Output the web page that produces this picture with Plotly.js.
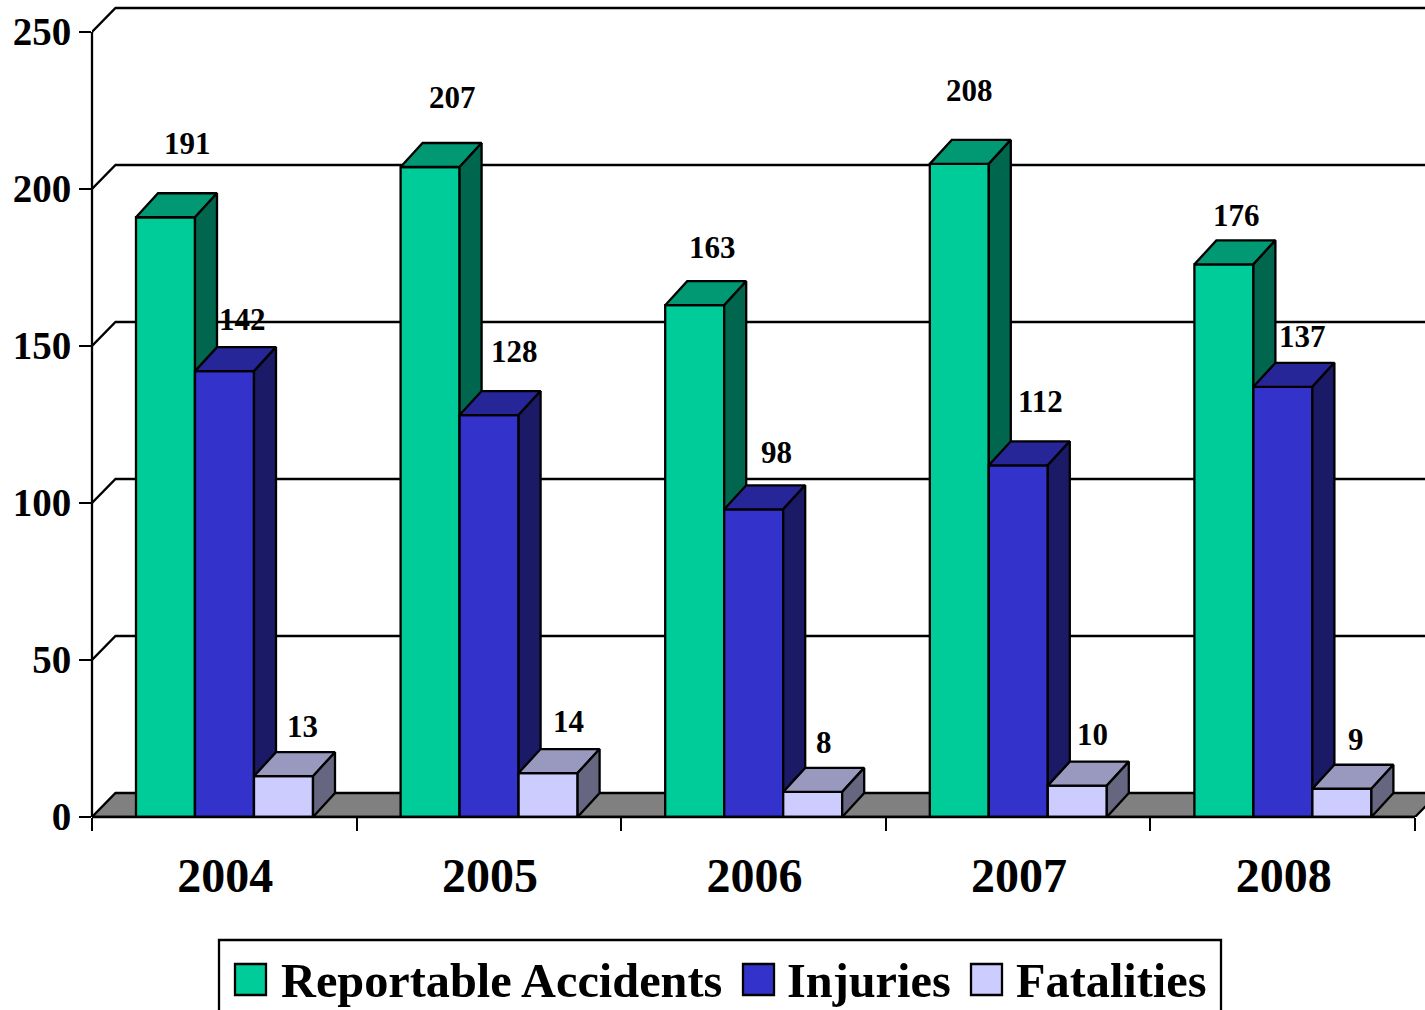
<!DOCTYPE html>
<html>
<head>
<meta charset="utf-8">
<style>html,body{margin:0;padding:0;background:#fff;overflow:hidden}</style>
<script src="https://cdn.plot.ly/plotly-3.0.1.min.js"></script>
</head>
<body>
<div id="chart" style="width:1425px;height:1010px"></div>
<script>
// ---- data ----
const years = ['2004', '2005', '2006', '2007', '2008'];
const reportableAccidents = [191, 207, 163, 208, 176];
const injuries = [142, 128, 98, 112, 137];
const fatalities = [13, 14, 8, 10, 9];
const yTicks = [0, 50, 100, 150, 200, 250];

// ---- hand-placed data label offsets from bar top centre (pixels) ----
const accidentLabelDx = [22, 22, 18, 10, 13];
const accidentLabelDy = [73.5, 69.5, 57.5, 73.5, 49];
const injuryLabelDx = [18, 25, 23, 22, 20];
const injuryLabelDy = [51.5, 64, 57, 63.5, 50];
const fatalityLabelDx = [19, 20, 11, 15.5, 14];
const fatalityLabelDy = [50, 52, 49, 51.6, 49.7];

// ---- geometry ----
const W = 1425, H = 1010, ML = 92, AXIS_Y = 817;
const catPx = 264.6, unitPx = 3.14;
const barPx = 59, gapPx = 44;
const barDX = 22 / catPx, barDY = 24 / unitPx;
const wallDX = 23.5 / catPx, wallDY = 24 / unitPx;
const xMax = (W - ML) / catPx, yMax = AXIS_Y / unitPx;
const w = barPx / catPx, start = gapPx / catPx;
const FONT = '"Liberation Serif", "Times New Roman", serif';
const LW = 2.3;

const series = [
  {name: 'Reportable Accidents', values: reportableAccidents, front: '#00CC99', top: '#009973', side: '#00664D', ldx: accidentLabelDx, ldy: accidentLabelDy},
  {name: 'Injuries', values: injuries, front: '#3333CC', top: '#262699', side: '#1A1A66', ldx: injuryLabelDx, ldy: injuryLabelDy},
  {name: 'Fatalities', values: fatalities, front: '#CCCCFF', top: '#9999BF', side: '#666680', ldx: fatalityLabelDx, ldy: fatalityLabelDy}
];

const traces = [];

// floor
traces.push({
  type: 'scatter', mode: 'lines', hoverinfo: 'skip', showlegend: false, cliponaxis: false, zorder: 0,
  x: [0, 5, 5 + wallDX, wallDX, 0], y: [0, 0, wallDY, wallDY, 0],
  fill: 'toself', fillcolor: '#808080', line: {color: '#000', width: LW}
});
// wall gridlines
const gx = [], gy = [];
yTicks.forEach(v => {
  if (v === 0) return;
  gx.push(0, wallDX, xMax + 1, null);
  gy.push(v, v + wallDY, v + wallDY, null);
});
traces.push({
  type: 'scatter', mode: 'lines', hoverinfo: 'skip', showlegend: false, cliponaxis: false, zorder: 0,
  x: gx, y: gy, line: {color: '#000', width: LW}
});

series.forEach((s, k) => {
  const left = i => i + start + k * w;
  traces.push({
    type: 'bar', name: s.name, x: years.map((_, i) => i + 0.5), y: s.values,
    width: w, offset: start - 0.5 + k * w, cliponaxis: false, zorder: 1 + 2 * k,
    marker: {color: s.front, line: {color: '#000', width: LW}}, hoverinfo: 'name+y'
  });
  const tx = [], ty = [], sx = [], sy = [];
  s.values.forEach((v, i) => {
    const a = left(i), b = a + w;
    tx.push(a, b, b + barDX, a + barDX, a, null);
    ty.push(v, v, v + barDY, v + barDY, v, null);
    sx.push(b, b + barDX, b + barDX, b, b, null);
    sy.push(0, barDY, v + barDY, v, 0, null);
  });
  [[tx, ty, s.top], [sx, sy, s.side]].forEach(p => traces.push({
    type: 'scatter', mode: 'lines', hoverinfo: 'skip', showlegend: false, cliponaxis: false, zorder: 2 + 2 * k,
    x: p[0], y: p[1], fill: 'toself', fillcolor: p[2], line: {color: '#000', width: LW}
  }));
});

// data labels
const annotations = [];
series.forEach((s, k) => s.values.forEach((v, i) => annotations.push({
  xref: 'x', yref: 'y', x: i + start + (k + 0.5) * w, y: v, text: String(v), showarrow: false,
  xshift: s.ldx[i], yshift: s.ldy[i], xanchor: 'center', yanchor: 'middle',
  font: {family: FONT, size: 31, color: '#000', weight: 700}
})));

// axis lines, not clipped at the plot edge
const shapes = [
  {type: 'line', layer: 'above', xref: 'paper', yref: 'y', x0: 0, x1: 0, y0: 0, y1: yTicks[yTicks.length - 1], line: {color: '#000', width: LW}},
  {type: 'line', layer: 'above', xref: 'x', yref: 'paper', x0: 0, x1: years.length, y0: 0, y1: 0, line: {color: '#000', width: LW}}
];

// legend (drawn to match the large swatches of the reference)
const px = x => (x - ML) / (W - ML);
const py = y => 1 - y / AXIS_Y;
shapes.push({
  type: 'rect', xref: 'paper', yref: 'paper', layer: 'above',
  x0: px(219), x1: px(1221), y0: py(940), y1: py(1020),
  fillcolor: '#fff', line: {color: '#000', width: LW}
});
const legendSwatchX = [235, 743, 971];
const legendTextX = [279.5, 786.5, 1014.5];
series.forEach((s, k) => {
  shapes.push({
    type: 'rect', xref: 'paper', yref: 'paper', layer: 'above',
    x0: px(legendSwatchX[k]), x1: px(legendSwatchX[k] + 31), y0: py(964), y1: py(995),
    fillcolor: s.front, line: {color: '#000', width: LW}
  });
  annotations.push({
    xref: 'paper', yref: 'paper', x: px(legendTextX[k]), y: py(980), text: s.name, showarrow: false,
    xanchor: 'left', yanchor: 'middle', font: {family: FONT, size: 48.3, color: '#000', weight: 700},
    borderpad: 0
  });
});

const layout = {
  width: W, height: H, autosize: false,
  margin: {l: ML, r: 0, t: 0, b: H - AXIS_Y, pad: 0},
  paper_bgcolor: '#fff', plot_bgcolor: '#fff',
  showlegend: false, barmode: 'overlay',
  xaxis: {
    type: 'linear', range: [0, xMax], showgrid: false, zeroline: false, showline: false,
    tickmode: 'array', tickvals: years.map((_, i) => i + 0.5), ticktext: years,
    ticks: '', ticklabelstandoff: 26, ticklabelshift: 1,
    tickfont: {family: FONT, size: 48, color: '#000', weight: 700},
    minor: {tickmode: 'array', tickvals: [0, 1, 2, 3, 4, 5], ticks: 'outside', ticklen: 13, tickwidth: LW, tickcolor: '#000', showgrid: false}
  },
  yaxis: {
    range: [0, yMax], showgrid: false, zeroline: false, showline: false,
    tickmode: 'array', tickvals: yTicks, ticks: 'outside', ticklen: 12, tickwidth: LW, tickcolor: '#000',
    ticklabelshift: -1,
    tickfont: {family: FONT, size: 39, color: '#000', weight: 700}
  },
  shapes, annotations
};

Plotly.newPlot('chart', traces, layout, {displayModeBar: false, responsive: false});
</script>
</body>
</html>
